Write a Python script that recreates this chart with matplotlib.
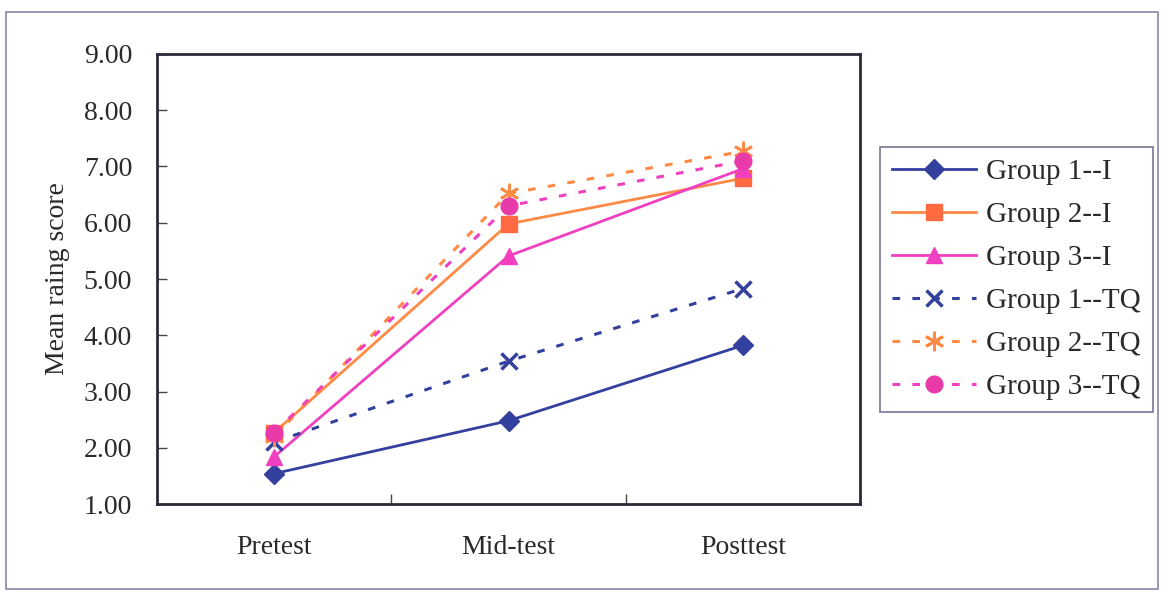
import matplotlib.pyplot as plt
from matplotlib.patches import Rectangle

plt.rcParams['font.family'] = ['Liberation Serif', 'DejaVu Serif']

tests = ["Pretest", "Mid-test", "Posttest"]
g1_i = [1.54, 2.48, 3.82]
g2_i = [2.27, 5.98, 6.79]
g3_i = [1.84, 5.41, 6.96]
g1_tq = [2.10, 3.54, 4.83]
g2_tq = [2.20, 6.52, 7.27]
g3_tq = [2.27, 6.30, 7.10]

blue = '#33409e'
orange = '#ff8a45'
pink = '#f040c0'

figure = plt.figure(figsize=(11.64, 5.94), dpi=100)
axes = figure.add_axes([0.1349, 0.1515, 0.604, 0.7576])

xs = [0.5, 1.5, 2.5]
dash = (0, (2.5, 4))
axes.plot(xs, g1_i, color=blue, lw=2, marker='D', ms=10, mfc=blue, mec=blue, label='Group 1--I')
axes.plot(xs, g2_i, color=orange, lw=2, marker='s', ms=12, mfc='#ff6a40', mec='#ff6a40', label='Group 2--I')
axes.plot(xs, g3_i, color=pink, lw=2, marker='^', ms=12, mfc=pink, mec=pink, label='Group 3--I')
axes.plot(xs, g1_tq, color=blue, lw=2.2, ls=dash, marker='x', ms=12, mew=2.5, label='Group 1--TQ')
axes.plot(xs, g2_tq, color=orange, lw=2.2, ls=dash, marker=(6, 2, 0), ms=14, mew=2, label='Group 2--TQ')
axes.plot(xs, g3_tq, color=pink, lw=2.2, ls=dash, marker='o', ms=12, mfc='#e83aa8', mec='#e83aa8', label='Group 3--TQ')

axes.set_xlim(0, 3)
axes.set_ylim(1, 9)
axes.set_yticks([1, 2, 3, 4, 5, 6, 7, 8, 9])
axes.set_yticklabels(["%.2f" % v for v in range(1, 10)], fontsize=20, color='#2a2a2a')
axes.set_xticks([0, 1, 2, 3])
axes.set_xticklabels([])
axes.set_xticks(xs, minor=True)
axes.set_xticklabels(tests, minor=True, fontsize=20, color='#2a2a2a')
axes.tick_params(axis='x', which='minor', length=0, pad=22)
axes.tick_params(axis='both', which='major', direction='in', length=7, width=1, color='#444444')
axes.tick_params(axis='y', pad=18)
for s in axes.spines.values():
    s.set_linewidth(2)
    s.set_color('#2a2a3a')
axes.set_ylabel("Mean raing score", fontsize=20, color='#2a2a2a', labelpad=10)

leg = figure.legend(loc='upper left', bbox_to_anchor=(0.756, 0.7525), fontsize=21,
                    handlelength=2.9, labelspacing=0.57, fancybox=False,
                    edgecolor='#555577', borderpad=0.4, handletextpad=0.35, borderaxespad=0)
leg.get_frame().set_linewidth(1.2)
for t in leg.get_texts():
    t.set_color('#2a2a2a')

figure.patches.append(Rectangle((0.005, 0.008), 0.99, 0.972, transform=figure.transFigure,
                                fill=False, edgecolor='#8888aa', lw=1.2))

figure.savefig("out.png", dpi=100)
